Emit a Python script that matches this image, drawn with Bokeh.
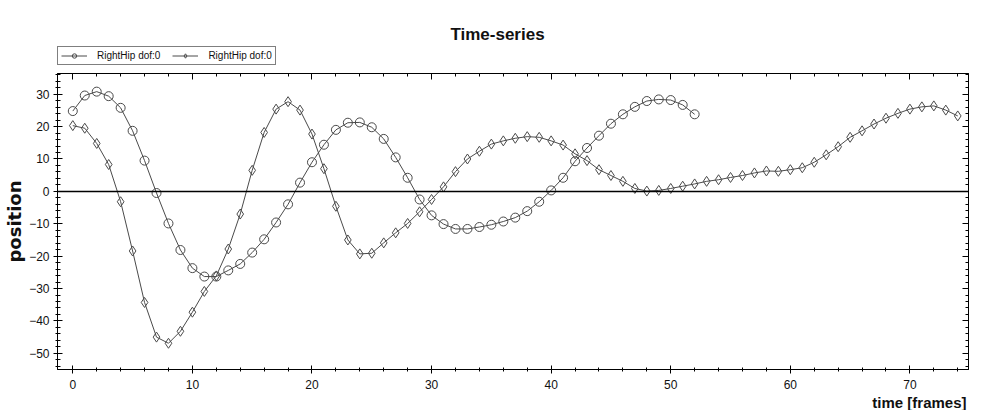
import numpy as np
from bokeh.plotting import figure
from bokeh.layouts import column
from bokeh.models import (Range1d, LinearAxis, SingleIntervalTicker, Span, Label, Title,
                          Legend, LegendItem, CustomJSTickFormatter, ColumnDataSource)
from bokeh.embed import file_html
from bokeh.resources import INLINE

# ---- data ----
frames_a = list(range(53))
hip_a = [24.8, 29.6, 30.8, 29.4, 25.8, 18.7, 9.5, -0.5, -9.9, -18.1,
         -23.7, -26.3, -26.3, -24.4, -22.4, -18.9, -14.8, -9.6, -4.0, 2.7,
         9.0, 14.4, 19.0, 21.2, 21.3, 19.8, 16.2, 10.5, 4.2, -2.5,
         -7.4, -10.1, -11.6, -11.6, -11.0, -10.3, -9.3, -8.1, -6.1, -3.2,
         0.3, 4.2, 9.3, 13.4, 17.2, 20.9, 23.8, 26.1, 27.9, 28.4,
         28.2, 26.7, 23.8]
frames_b = list(range(75))
hip_b = [20.3, 19.5, 14.8, 8.3, -3.2, -18.4, -34.3, -45.0, -46.9, -43.2,
         -37.3, -30.9, -26.1, -17.8, -7.0, 6.5, 18.2, 25.4, 27.7, 25.1,
         17.7, 7.0, -4.6, -15.0, -19.3, -19.1, -15.9, -12.8, -9.9, -6.3,
         -2.5, 1.4, 6.1, 10.0, 12.4, 14.6, 15.6, 16.4, 16.9, 16.7,
         15.6, 14.3, 11.6, 9.5, 6.7, 4.9, 3.1, 0.9, 0.1, 0.3,
         0.9, 1.6, 2.3, 3.1, 3.6, 4.3, 4.9, 5.7, 6.3, 6.2,
         6.7, 7.3, 9.0, 11.3, 13.8, 16.7, 18.7, 20.8, 22.6, 24.1,
         25.4, 26.1, 26.4, 25.1, 23.3]
series_labels = ["RightHip dof:0", "RightHip dof:0"]
title_text = "Time-series"
x_label = "time [frames]"
y_label = "position"

FONT = "Liberation Sans"
COL = "#4a4a4a"
W = 991
H_TOP = 73
H_MAIN = 337

src_a = ColumnDataSource(dict(x=frames_a, y=hip_a))
src_b = ColumnDataSource(dict(x=frames_b, y=hip_b))

# ---------------- header strip: title + legend ----------------
head = figure(width=W, height=H_TOP, output_backend="svg", toolbar_location=None,
              x_range=Range1d(0, 1), y_range=Range1d(0, 1),
              x_axis_location=None, y_axis_location=None,
              min_border_left=57, min_border_right=23, min_border_top=0,
              min_border_bottom=0)
head.grid.visible = False
head.outline_line_color = None
head.background_fill_color = "white"
head.border_fill_color = "white"

# legend proxies (hidden; only their legend glyphs are shown)
ha_l = head.line("x", "y", source=src_a, line_color=COL, line_width=1, visible=False)
ha_s = head.scatter("x", "y", source=src_a, marker="circle", size=9,
                    fill_color=None, line_color=COL, line_width=1, visible=False)
hb_l = head.line("x", "y", source=src_b, line_color=COL, line_width=1, visible=False)
hb_s = head.scatter("x", "y", source=src_b, marker="diamond", size=10,
                    fill_color=None, line_color=COL, line_width=1, visible=False)

legend = Legend(items=[LegendItem(label=series_labels[0], renderers=[ha_l, ha_s]),
                       LegendItem(label=series_labels[1], renderers=[hb_l, hb_s])],
                orientation="horizontal", location=(0, 8), margin=0,
                border_line_color="black", border_line_width=1,
                background_fill_color="white", background_fill_alpha=1,
                inactive_fill_alpha=0,
                label_text_font=FONT, label_text_font_size="10px",
                label_text_color="#111111",
                label_height=11, glyph_height=11, glyph_width=26,
                label_standoff=10, spacing=12, padding=3)
head.add_layout(legend, "center")

head.add_layout(Label(x=440, y=39, x_units="screen", y_units="screen",
                      text=title_text, text_align="center",
                      text_baseline="alphabetic", text_font=FONT,
                      text_font_size="17px", text_font_style="bold",
                      text_color="#111111"))

# ---------------- main plot ----------------
p = figure(width=W, height=H_MAIN, output_backend="svg", toolbar_location=None,
           x_range=Range1d(-1.28, 74.9), y_range=Range1d(-55.0, 36.4),
           min_border_left=57, min_border_right=23, min_border_top=0,
           min_border_bottom=40)
p.grid.visible = False
p.outline_line_color = "black"
p.outline_line_width = 1
p.background_fill_color = "white"
p.border_fill_color = "white"

def style_axis(ax, tin, tout, mtin, mtout, labels=True):
    ax.ticker = SingleIntervalTicker(interval=10, num_minor_ticks=5)
    ax.axis_line_color = "black"
    ax.major_tick_line_color = "black"
    ax.minor_tick_line_color = "black"
    ax.major_tick_in = tin
    ax.major_tick_out = tout
    ax.minor_tick_in = mtin
    ax.minor_tick_out = mtout
    ax.major_label_text_font = FONT
    ax.major_label_text_font_size = "12px"
    ax.major_label_text_color = "#111111"
    if not labels:
        ax.formatter = CustomJSTickFormatter(code="return ''")
        ax.major_label_standoff = 0

xa = p.xaxis[0]
style_axis(xa, 4, 4, 2, 2)
xa.major_label_standoff = 6

ya = p.yaxis[0]
style_axis(ya, 5, 4, 3, 2)
ya.major_label_standoff = 4
ya.axis_label = y_label
ya.axis_label_standoff = 1
ya.axis_label_text_font = "DejaVu Sans"
ya.axis_label_text_font_size = "18px"
ya.axis_label_text_font_style = "bold"
ya.axis_label_text_color = "#111111"

top = LinearAxis()
style_axis(top, 6, 0, 3, 0, labels=False)
p.add_layout(top, "above")
right = LinearAxis()
style_axis(right, 6, 0, 3, 0, labels=False)
p.add_layout(right, "right")

# x-axis label, right-aligned under the axis
p.add_layout(Title(text=x_label, align="right", offset=2, standoff=0,
                   text_font=FONT, text_font_size="15px", text_font_style="bold",
                   text_color="#111111"), "below")

p.add_layout(Span(location=0, dimension="width", line_color="black", line_width=1.5))

p.line("x", "y", source=src_a, line_color=COL, line_width=1)
p.scatter("x", "y", source=src_a, marker="circle", size=9,
          fill_color=None, line_color=COL, line_width=1)
p.line("x", "y", source=src_b, line_color=COL, line_width=1)
p.scatter("x", "y", source=src_b, marker="diamond", size=10,
          fill_color=None, line_color=COL, line_width=1)

layout = column(head, p, spacing=0)
open("out.html", "w").write(file_html(layout, INLINE))
